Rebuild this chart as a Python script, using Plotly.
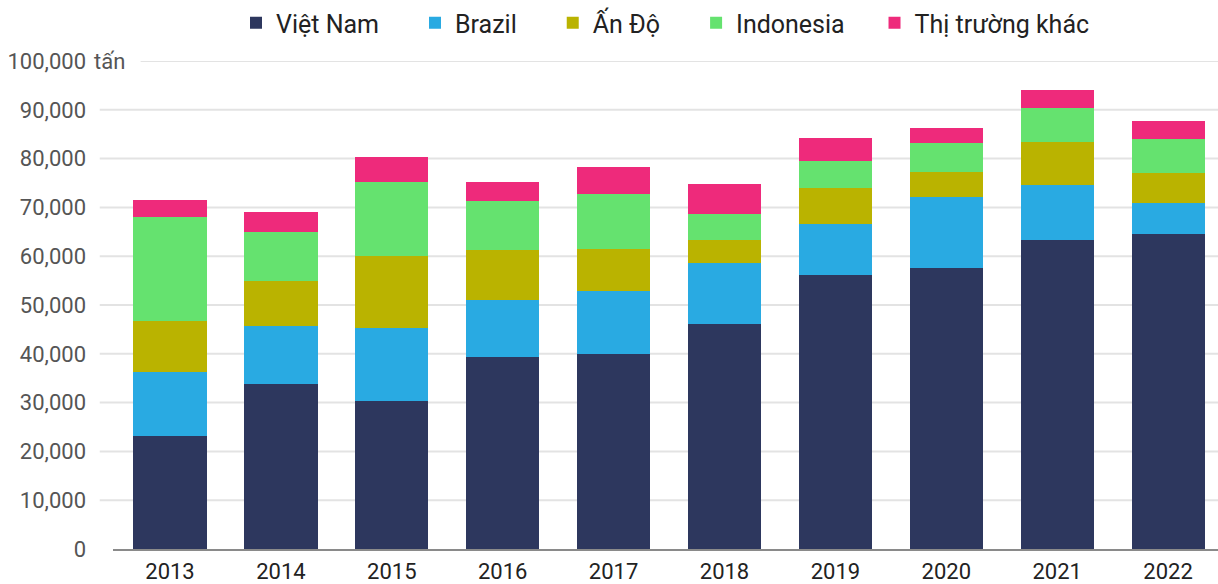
import plotly.graph_objects as go

years = ["2013", "2014", "2015", "2016", "2017", "2018", "2019", "2020", "2021", "2022"]
viet_nam = [23200, 33800, 30300, 39300, 40000, 46100, 56200, 57600, 63300, 64600]
brazil = [13100, 11900, 15000, 11700, 12900, 12500, 10400, 14500, 11300, 6300]
an_do = [10400, 9200, 14700, 10300, 8600, 4700, 7400, 5100, 8800, 6200]
indonesia = [21300, 10100, 15200, 10000, 11300, 5300, 5500, 6000, 7000, 7000]
khac = [3500, 4100, 5100, 3900, 5500, 6200, 4700, 3100, 3700, 3700]

series = [
    ("Việt Nam", viet_nam, "#2D375E"),
    ("Brazil", brazil, "#29AAE2"),
    ("Ấn Độ", an_do, "#BAB300"),
    ("Indonesia", indonesia, "#65E26F"),
    ("Thị trường khác", khac, "#EE2A7B"),
]
# extra trailing space after each legend label, to spread the legend like the original
legend_pad = [5, 5, 5, 4, 0]

y_ticks = [0, 10000, 20000, 30000, 40000, 50000, 60000, 70000, 80000, 90000, 100000]

fig = go.Figure()
for (name, vals, color), pad in zip(series, legend_pad):
    fig.add_trace(go.Bar(x=years, y=vals, name=name + "\u00a0" * pad, marker_color=color,
                         marker_line_width=0, hovertemplate="%{x}: %{y:,}<extra>" + name + "</extra>"))

# gridlines drawn by hand so the top one can leave room for the unit label
for t in y_ticks[1:]:
    fig.add_shape(type="line", xref="paper", yref="y", x0=0.025 if t == 100000 else -0.012, x1=1,
                  y0=t, y1=t, line=dict(color="#E3E3E3", width=2), layer="below")

fig.add_annotation(text="tấn", xref="paper", yref="y", x=-0.019, y=100000, xanchor="left",
                   showarrow=False, font=dict(size=22, color="#555555"))

fig.update_layout(
    barmode="stack",
    bargap=0.34,
    width=1218, height=584,
    margin=dict(l=113, r=0, t=61, b=35),
    plot_bgcolor="white", paper_bgcolor="white",
    font=dict(family="Roboto, sans-serif", size=22, color="#222222"),
    legend=dict(orientation="h", x=0.5, xanchor="center", y=1.078, yanchor="middle",
                traceorder="normal", itemclick=False,
                font=dict(size=25, color="#222222")),
    xaxis=dict(range=[-0.514, 9.45], showgrid=False, showline=True, linecolor="#8A8A8A", linewidth=2,
               ticks="", ticklabelstandoff=2, automargin=False,
               tickfont=dict(size=22, color="#222222")),
    yaxis=dict(range=[0, 100000], showgrid=False, zeroline=False, tickvals=y_ticks,
               ticktext=[f"{v:,}" for v in y_ticks], ticklabelstandoff=26, automargin=False,
               tickfont=dict(size=22, color="#555555")),
)

# drop the page's default body margin so the chart sits at the window corner
fig.write_html("out.html", config={"displayModeBar": False},
               post_script="document.body.style.margin='0';")
